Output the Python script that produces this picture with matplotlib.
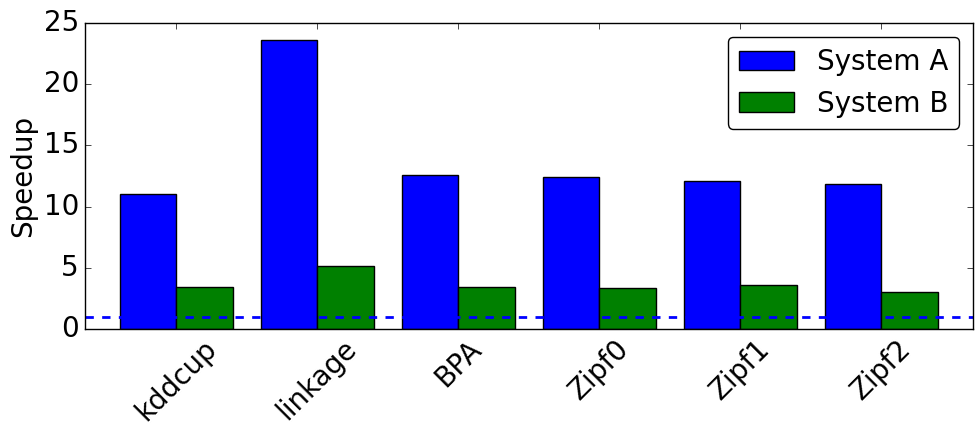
import numpy as np
import matplotlib
matplotlib.use("Agg")
import matplotlib.pyplot as plt

datasets = ["kddcup", "linkage", "BPA", "Zipf0", "Zipf1", "Zipf2"]
system_a = [11.0, 23.65, 12.6, 12.4, 12.1, 11.85]
system_b = [3.4, 5.15, 3.4, 3.3, 3.55, 3.0]
baseline = 1.0

plt.style.use("classic")
plt.rcParams.update({
    "font.size": 20,
    "figure.facecolor": "white",
    "savefig.facecolor": "white",
})

fig = plt.figure(figsize=(9.76, 4.26), dpi=100)
ax = fig.add_axes([0.0866, 0.228, 0.9104, 0.718])

ind = np.arange(len(datasets))
width = 0.4
ax.bar(ind - width, system_a, width, align="edge", color="b", label="System A")
ax.bar(ind, system_b, width, align="edge", color="g", label="System B")
ax.axhline(baseline, color="b", linestyle="--", linewidth=2)

ax.set_xlim(-0.65, len(datasets) - 0.35)
ax.set_ylim(0, 25)
ax.set_xticks(ind)
ax.set_xticklabels(datasets, rotation=45)
ax.set_yticks(np.arange(0, 26, 5))
ax.set_ylabel("Speedup")
ax.legend(loc="upper right", fontsize=20, fancybox=True)

fig.savefig("out.png", dpi=100)
plt.close(fig)
